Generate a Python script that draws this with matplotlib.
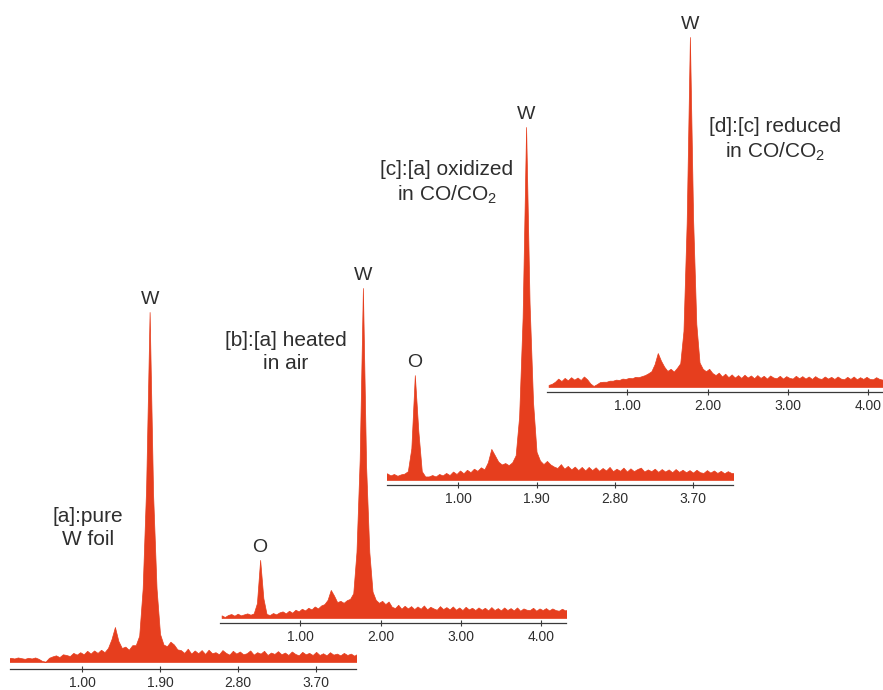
import numpy as np
import matplotlib
matplotlib.use("Agg")
import matplotlib.pyplot as plt

plt.rcParams['font.family'] = ['Liberation Sans', 'DejaVu Sans']
plt.rcParams['mathtext.fontset'] = 'custom'
plt.rcParams['mathtext.rm'] = 'Liberation Sans'
plt.rcParams['mathtext.it'] = 'Liberation Sans:italic'

# ---------------- data ----------------
# energy channels (keV), 0.04 keV wide, 0.02 ... 4.34
energy = np.round(np.arange(0.02, 4.35, 0.04), 2)

# relative intensity (% of the W M-line peak)
counts_a = [
    0.8, 0.9, 1.0, 1.1, 1.2, 1.0, 1.3, 1.1, 0.9, 1.2,
    1.0, 1.3, 0.9, 0.3, 0.1, 1.2, 1.6, 1.9, 1.4, 2.2,
    2.0, 1.7, 2.6, 2.1, 2.8, 2.2, 3.2, 2.4, 3.3, 2.6,
    3.5, 2.8, 4.0, 6.5, 10.0, 6.0, 4.0, 4.4, 3.5, 4.8,
    4.8, 7.5, 21, 50, 100, 48, 21, 8.0, 5.0, 4.5,
    5.8, 5.0, 3.6, 3.4, 2.6, 3.8, 2.4, 3.3, 2.5, 3.4,
    2.3, 3.5, 2.5, 2.8, 2.2, 3.4, 2.6, 2.1, 3.2, 2.4,
    3.0, 2.2, 2.5, 3.3, 2.1, 2.8, 2.4, 3.2, 2.0, 2.7,
    2.3, 3.1, 2.2, 2.7, 2.0, 3.0, 2.3, 1.9, 2.9, 2.2,
    2.6, 2.0, 2.9, 2.0, 2.5, 1.9, 2.8, 2.1, 2.4, 1.9,
    2.6, 2.0, 2.4, 1.8, 2.4, 1.9, 2.3, 1.8, 2.1,
]
counts_b = [
    0.8, 0.3, 0.9, 1.2, 0.7, 1.3, 0.8, 1.1, 1.4, 1.0,
    1.4, 4.5, 17.6, 6.0, 1.2, 0.9, 1.5, 1.1, 1.7, 2.0,
    1.4, 2.2, 1.6, 2.5, 2.0, 2.8, 2.3, 3.1, 2.6, 3.5,
    2.9, 3.8, 4.2, 5.5, 8.5, 6.8, 4.8, 5.2, 4.6, 5.4,
    5.8, 7.5, 20, 48, 100, 46, 20, 8.0, 5.5, 4.6,
    5.2, 4.2, 5.0, 3.4, 3.0, 4.0, 2.8, 3.7, 2.9, 3.6,
    2.7, 3.5, 2.8, 3.8, 2.6, 3.4, 2.9, 2.5, 3.6, 2.7,
    3.3, 2.6, 3.5, 2.5, 3.2, 2.4, 3.4, 2.6, 3.1, 2.4,
    3.2, 2.5, 3.1, 2.3, 3.3, 2.4, 3.0, 2.3, 3.2, 2.4,
    3.0, 2.3, 3.2, 2.2, 2.9, 2.5, 2.4, 3.1, 2.2, 2.9,
    2.4, 3.0, 2.3, 2.9, 2.4, 2.2, 2.8, 2.3, 2.6,
]
counts_c = [
    1.0, 1.3, 1.6, 1.2, 1.9, 1.3, 1.7, 1.2, 1.6, 1.8,
    2.5, 9.0, 29.7, 14, 2.5, 1.0, 1.0, 1.4, 1.0, 1.7,
    1.3, 2.0, 1.4, 2.4, 1.7, 2.7, 1.9, 2.9, 2.2, 3.2,
    2.6, 3.6, 3.0, 5.0, 8.8, 7.0, 5.2, 4.4, 4.8, 4.2,
    5.0, 7.0, 18, 46, 100, 50, 22, 8.0, 5.5, 4.5,
    5.4, 4.4, 3.8, 3.4, 4.5, 3.2, 4.0, 3.0, 3.8, 2.8,
    3.7, 2.7, 3.7, 2.8, 3.6, 2.6, 3.4, 2.7, 3.7, 2.5,
    3.2, 2.6, 3.5, 2.4, 3.3, 2.5, 3.1, 3.5, 2.4, 3.0,
    2.5, 3.2, 2.3, 3.1, 2.4, 3.0, 2.2, 3.1, 2.3, 2.9,
    2.2, 2.8, 2.1, 2.9, 2.2, 2.0, 2.8, 2.1, 2.7, 2.0,
    2.6, 1.9, 2.5, 2.0, 1.9, 2.5, 2.0, 2.3, 1.9,
]
counts_d = [
    0.6, 0.9, 1.5, 2.4, 1.7, 2.6, 1.9, 2.8, 2.1, 2.7,
    2.0, 3.0, 2.2, 1.0, 0.3, 0.8, 1.4, 1.5, 1.5, 1.8,
    1.8, 2.1, 2.0, 2.4, 2.3, 2.6, 2.5, 2.9, 2.8, 3.1,
    3.4, 3.9, 4.5, 6.5, 9.7, 7.5, 5.8, 4.6, 5.2, 4.4,
    5.5, 6.8, 16, 47, 100, 48, 18, 7.0, 5.2, 4.5,
    5.2, 4.0, 3.4, 4.1, 3.0, 3.8, 2.8, 3.6, 2.7, 3.4,
    2.6, 3.5, 2.7, 3.3, 2.5, 3.4, 2.6, 3.2, 2.4, 3.3,
    2.7, 2.5, 3.2, 2.4, 3.1, 2.6, 2.4, 3.2, 2.5, 3.1,
    2.4, 3.0, 2.3, 3.1, 2.5, 2.3, 3.0, 2.4, 2.9, 2.3,
    3.0, 2.4, 2.2, 2.9, 2.3, 3.0, 2.2, 2.8, 2.3, 2.9,
    2.3, 2.2, 2.8, 2.3, 2.1, 2.8, 2.2, 2.7, 2.2,
]

ticks_ac = [1.00, 1.90, 2.80, 3.70]
ticks_bd = [1.00, 2.00, 3.00, 4.00]
tick_labels_ac = ["1.00", "1.90", "2.80", "3.70"]
tick_labels_bd = ["1.00", "2.00", "3.00", "4.00"]

w_energy = 1.78
o_energy = 0.50

sample_labels = [
    "[a]:pure\nW foil",
    "[b]:[a] heated\nin air",
    "[c]:[a] oxidized\nin CO/CO$_\\mathrm{2}$",
    "[d]:[c] reduced\nin CO/CO$_\\mathrm{2}$",
]

# ---------------- layout ----------------
W, H = 883, 690
RED = '#E63E1E'
TXT = '#2e2e2e'
AXC = '#3a3a3a'

fig = plt.figure(figsize=(W / 100, H / 100), dpi=100)


def add_panel(counts, ticks, tlabels, xlim, x0, x1, axis_y, base_y, peak_y, top_pad=10):
    scale = (base_y - peak_y) / 100.0
    ybot = -(axis_y - base_y) / scale
    top_px = peak_y - top_pad
    ytop = 100 + top_pad / scale
    ax = fig.add_axes([x0 / W, (H - axis_y) / H, (x1 - x0) / W, (axis_y - top_px) / H])
    ax.patch.set_alpha(0)
    ax.fill_between(energy, 0, counts, facecolor=RED, edgecolor=RED, linewidth=0.5)
    ax.set_xlim(*xlim)
    ax.set_ylim(ybot, ytop)
    for s in ('top', 'left', 'right'):
        ax.spines[s].set_visible(False)
    ax.spines['bottom'].set_color(AXC)
    ax.spines['bottom'].set_linewidth(0.9)
    ax.set_yticks([])
    ax.set_xticks(ticks)
    ax.set_xticklabels(tlabels)
    ax.tick_params(axis='x', direction='inout', length=4, width=0.8, color=AXC,
                   labelsize=10, labelcolor=TXT, pad=3)
    return ax


ax_a = add_panel(counts_a, ticks_ac, tick_labels_ac, (0.17, 4.16), 10, 356, 669, 662, 312)
ax_b = add_panel(counts_b, ticks_bd, tick_labels_bd, (0.0, 4.31), 220, 566, 623, 618, 288)
ax_c = add_panel(counts_c, ticks_ac, tick_labels_ac, (0.18, 4.16), 387, 733, 485, 480, 127)
ax_d = add_panel(counts_d, ticks_bd, tick_labels_bd, (0.0, 4.31), 547, 893, 392, 387, 37)


def peak_label(ax, txt, e, counts):
    val = counts[int(np.argmin(np.abs(energy - e)))]
    ax.annotate(txt, xy=(e, val), xytext=(0, 6), textcoords='offset points',
                ha='center', va='baseline', fontsize=14, color=TXT, annotation_clip=False)


for ax, c in ((ax_a, counts_a), (ax_b, counts_b), (ax_c, counts_c), (ax_d, counts_d)):
    peak_label(ax, 'W', w_energy, c)
peak_label(ax_b, 'O', o_energy, counts_b)
peak_label(ax_c, 'O', o_energy, counts_c)

label_pos = [(88, 528), (286, 352), (447, 183), (775, 140)]
for txt, (px, py) in zip(sample_labels, label_pos):
    fig.text(px / W, 1 - py / H, txt, ha='center', va='center', fontsize=15,
             color=TXT, linespacing=1.3)

fig.savefig('out.png', dpi=100)
